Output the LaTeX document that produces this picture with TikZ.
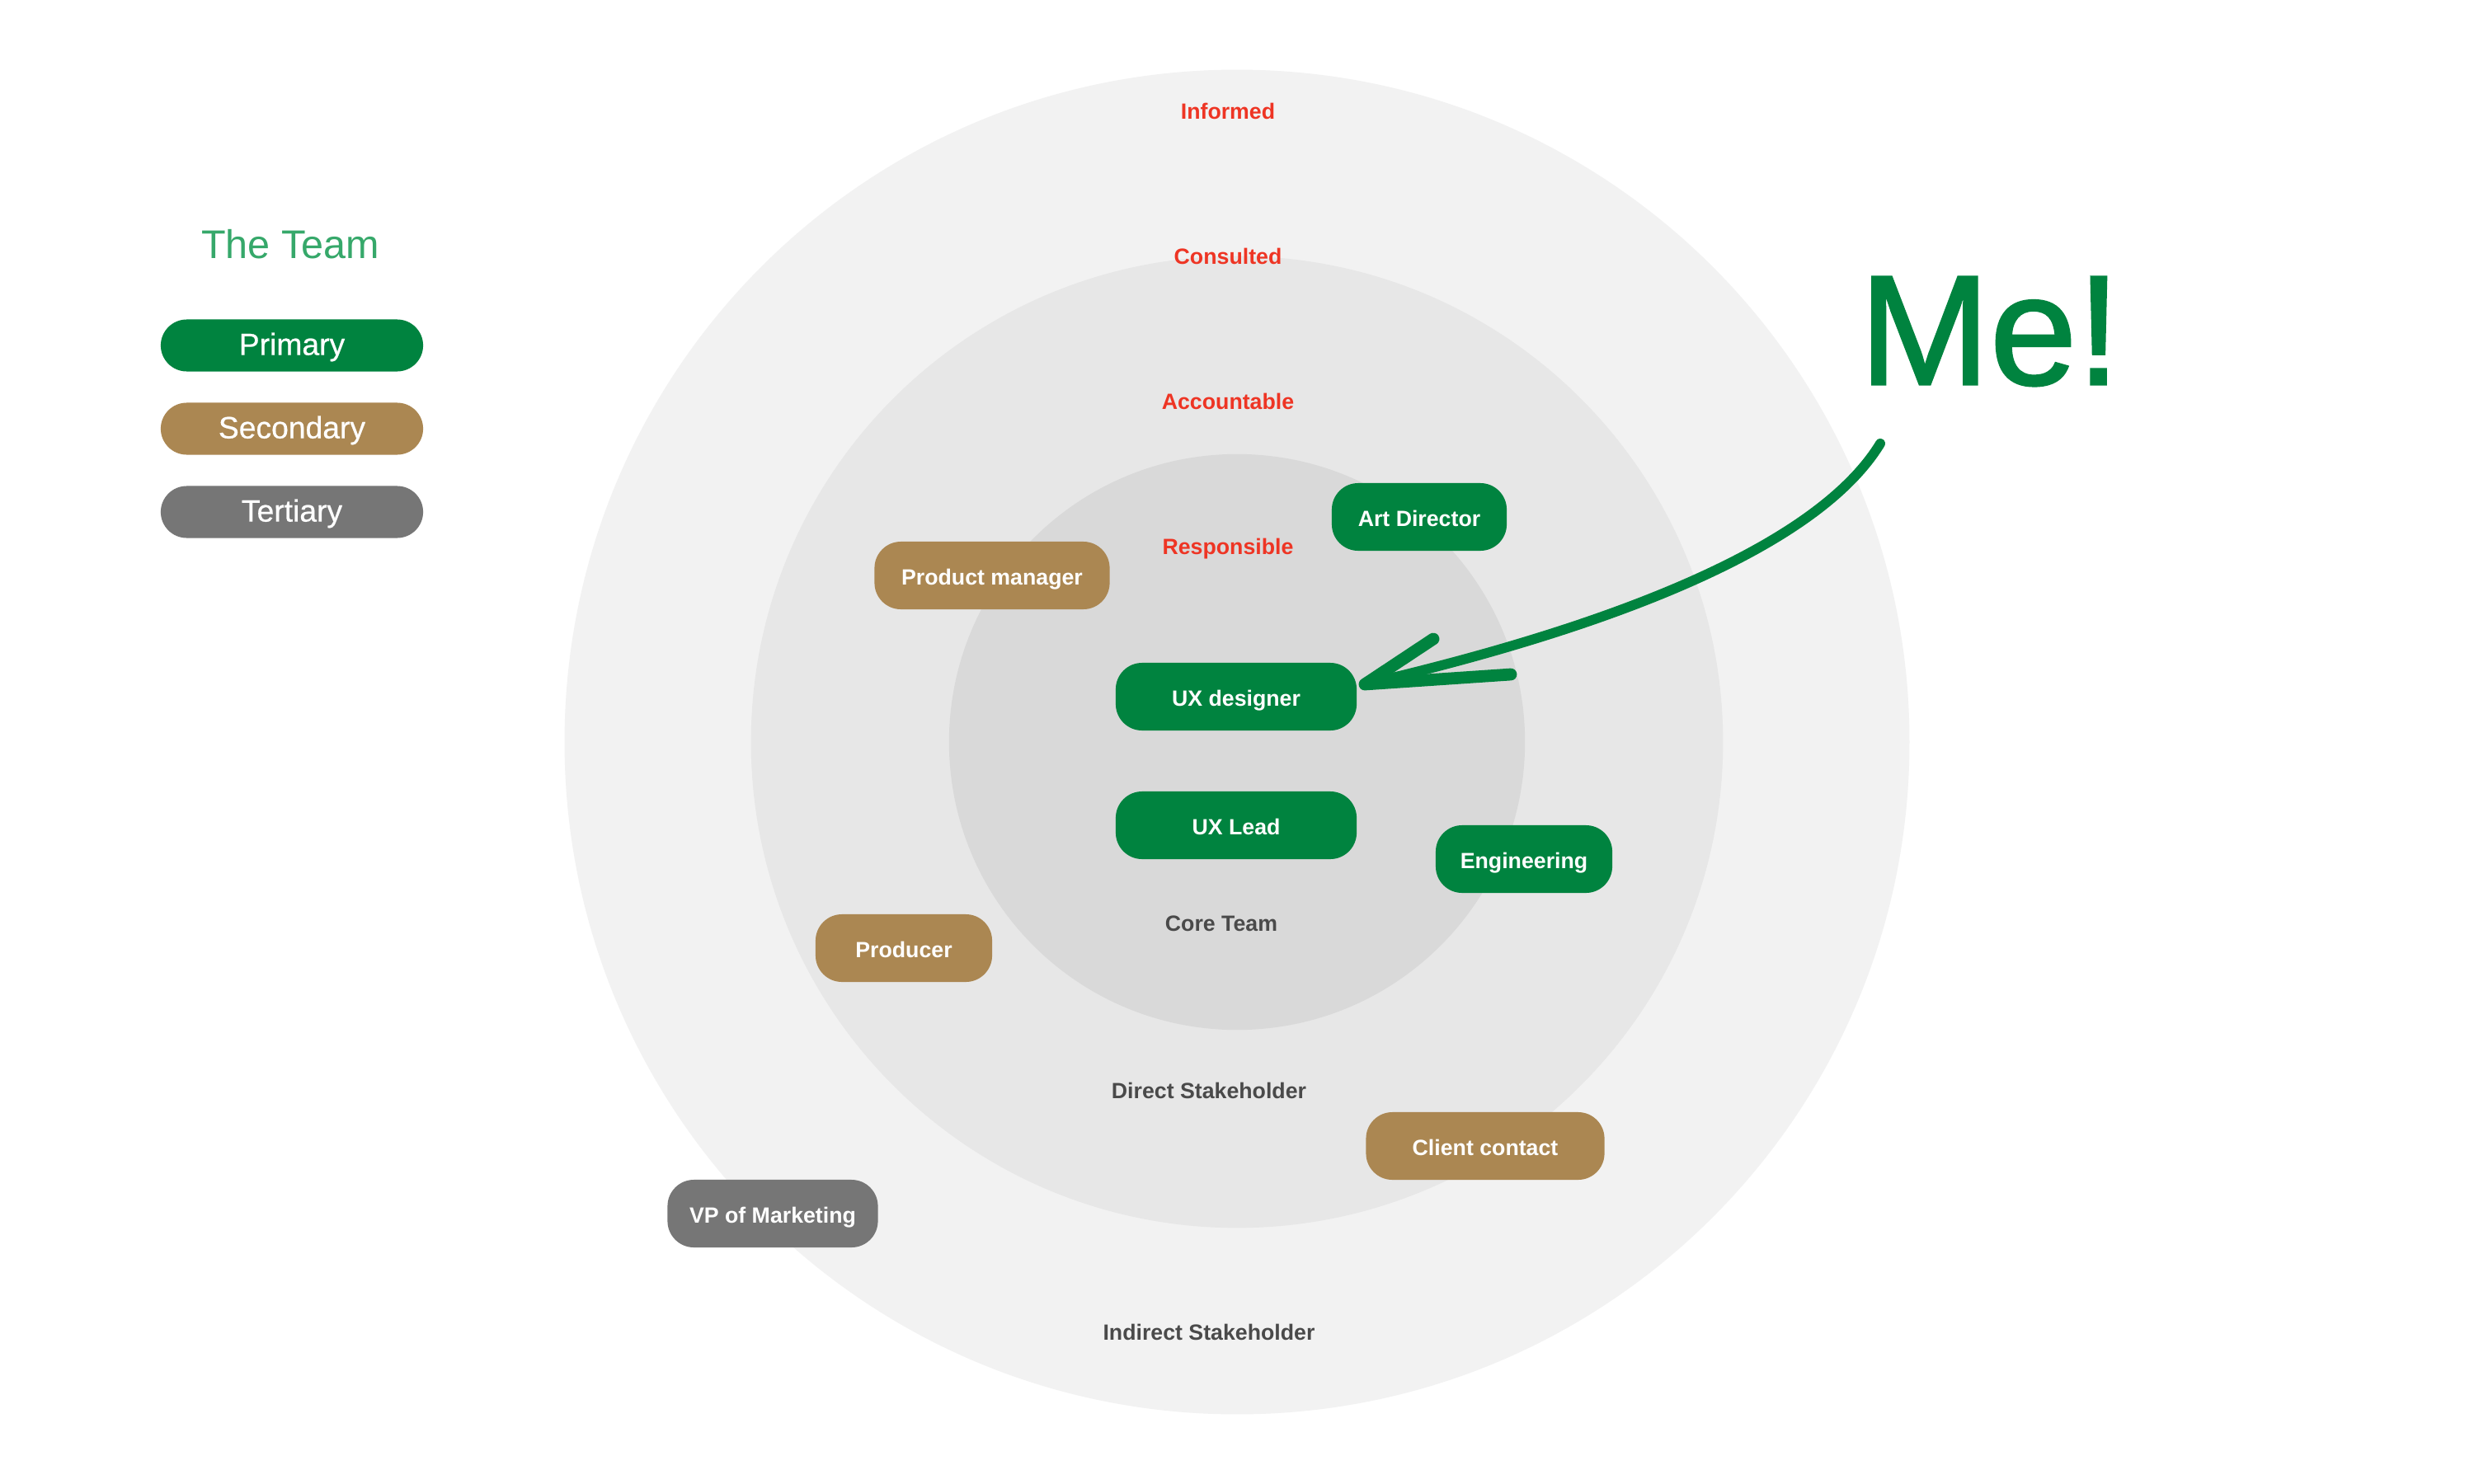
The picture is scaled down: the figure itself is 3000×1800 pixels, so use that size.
\documentclass[tikz,border=0pt]{standalone}
\usepackage{fontspec}
\setmainfont{Liberation Sans}
\newfontfamily\mefont[FakeBold=1.4]{Liberation Sans}
\newfontfamily\medfont[FakeBold=0.6]{Liberation Sans}
\definecolor{tgreen}{HTML}{00833F}
\definecolor{tlgreen}{HTML}{36A86A}
\definecolor{tbrown}{HTML}{AB8752}
\definecolor{tgray}{HTML}{767676}
\definecolor{tred}{HTML}{EE3524}
\definecolor{tdark}{HTML}{4A4A4A}
\definecolor{ringA}{HTML}{F2F2F2}
\definecolor{ringB}{HTML}{E7E7E7}
\definecolor{ringC}{HTML}{D9D9D9}
\tikzset{
  pill/.style={rectangle, rounded corners=0.32cm, minimum height=0.82cm, inner sep=0pt,
    text=white, font=\fontsize{7.6}{9}\selectfont\bfseries, text height=1.5ex, text depth=.25ex},
  prim/.style={pill, fill=tgreen},
  sec/.style={pill, fill=tbrown},
  ter/.style={pill, fill=tgray},
  legendpill/.style={rectangle, rounded corners=0.315cm, minimum height=0.63cm, minimum width=3.18cm,
    inner sep=0pt, text=white, font=\medfont\fontsize{10.6}{12}\selectfont, text height=1.5ex, text depth=.25ex},
  ringlabel/.style={inner sep=0pt, text=tred, font=\fontsize{7.6}{9}\selectfont\bfseries, text height=1.5ex, text depth=.25ex},
  grouplabel/.style={inner sep=0pt, text=tdark, font=\fontsize{7.6}{9}\selectfont\bfseries, text height=1.5ex, text depth=.25ex},
  pen/.style={draw=tgreen, line cap=round, line join=round}
}
\begin{document}
\begin{tikzpicture}[x=0.01cm,y=-0.01cm]
\useasboundingbox (0,0) rectangle (3000,1800);
\fill[white] (0,0) rectangle (3000,1800);

% rings
\fill[ringA] (1500,900) circle[radius=8.15cm];
\fill[ringB] (1500,900) circle[radius=5.89cm];
\fill[ringC] (1500,900) circle[radius=3.49cm];

% legend
\node[inner sep=0pt, text=tlgreen, font=\fontsize{13.8}{16}\selectfont, text height=1.5ex, text depth=.25ex] (title) at (352,302) {The Team};
\node[legendpill, fill=tgreen] (lp) at (354,419) {Primary};
\node[legendpill, fill=tbrown] (ls) at (354,520) {Secondary};
\node[legendpill, fill=tgray] (lt) at (354,621) {Tertiary};

% ring labels
\node[ringlabel] (inf) at (1489,133) {Informed};
\node[ringlabel] (con) at (1489,309) {Consulted};
\node[ringlabel] (acc) at (1489,485) {Accountable};
\node[ringlabel] (res) at (1489,661) {Responsible};

\node[grouplabel] (core) at (1481,1118) {Core Team};
\node[grouplabel] (direct) at (1466,1321) {Direct Stakeholder};
\node[grouplabel] (indirect) at (1466,1614) {Indirect Stakeholder};

% people
\node[prim, minimum width=2.12cm] (art) at (1721,627) {Art Director};
\node[sec, minimum width=2.85cm] (pm) at (1203,698) {Product manager};
\node[prim, minimum width=2.92cm] (uxd) at (1499,845) {UX designer};
\node[prim, minimum width=2.92cm] (uxl) at (1499,1001) {UX Lead};
\node[prim, minimum width=2.14cm] (eng) at (1848,1042) {Engineering};
\node[sec, minimum width=2.14cm] (prod) at (1096,1150) {Producer};
\node[sec, minimum width=2.89cm] (client) at (1801,1390) {Client contact};
\node[ter, minimum width=2.55cm] (vp) at (937,1472) {VP of Marketing};

% Me!
\node[inner sep=0pt, text=tgreen, font=\mefont\fontsize{54}{60}\selectfont] (me) at (2413,402) {Me!};

% hand-drawn arrow
\coordinate (start) at (2280,538);
\coordinate (tip) at (1655,830);
\coordinate (barbA) at (1738,775);
\coordinate (barbB) at (1832,818);
\draw[pen, line width=3.4pt] (start) .. controls (2202,666) and (1947,762) .. (tip);
\draw[pen, line width=4.2pt] (barbA) -- (tip) -- (barbB);
\end{tikzpicture}
\end{document}
